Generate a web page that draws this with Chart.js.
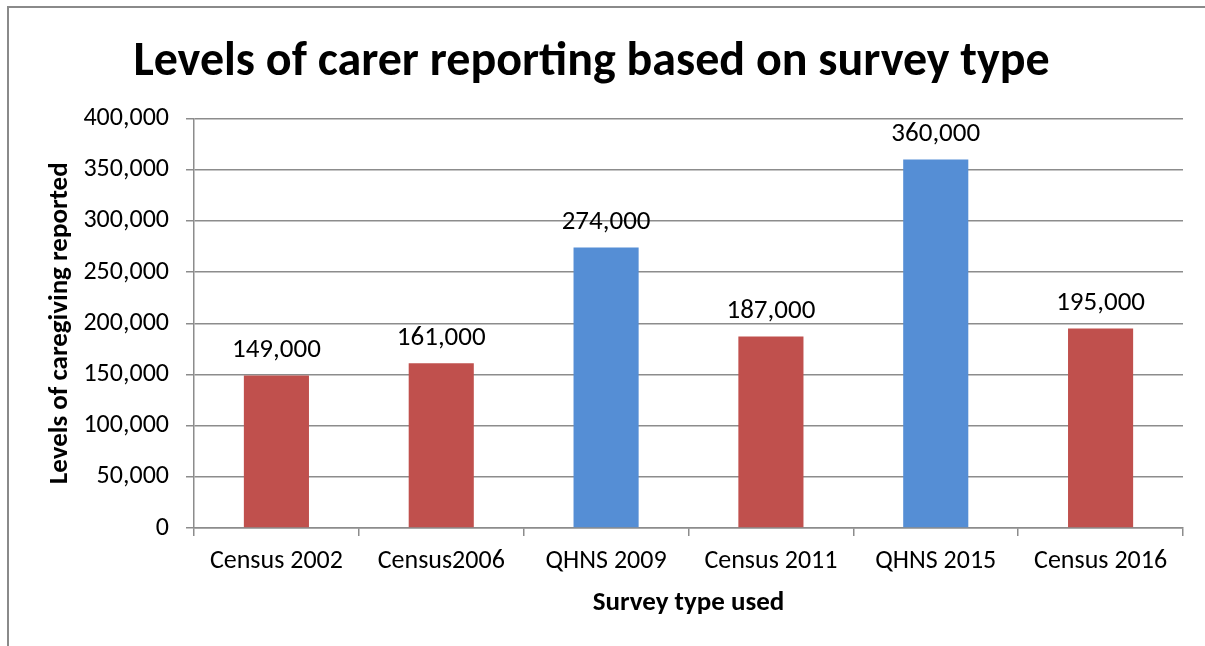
<!DOCTYPE html>
<html>
<head>
<meta charset="utf-8">
<script src="https://cdn.jsdelivr.net/npm/chart.js@4.4.1/dist/chart.umd.min.js"></script>
<style>
  body { margin: 0; background: #fff; }
  #wrap { width: 1205px; height: 646px; position: relative; }
</style>
</head>
<body>
<div id="wrap"><canvas id="carerChart" width="1205" height="646"></canvas></div>
<script>
// Chart data
const surveys = ['Census 2002', 'Census2006', 'QHNS 2009', 'Census 2011', 'QHNS 2015', 'Census 2016'];
const carerCounts = [149000, 161000, 274000, 187000, 360000, 195000];
const surveyKind = ['census', 'census', 'qhns', 'census', 'qhns', 'census'];
const yTicks = [0, 50000, 100000, 150000, 200000, 250000, 300000, 350000, 400000];

const FONT = 'Carlito, Lato, "Open Sans", sans-serif';
const GRID = '#8c8c8c';
const kindColors = { census: '#C0504D', qhns: '#558ED5' };

// Outer frame (left and top lines of the chart box)
const framePlugin = {
  id: 'frame',
  beforeDraw(chart) {
    const ctx = chart.ctx;
    ctx.save();
    ctx.strokeStyle = '#8a8a8a';
    ctx.lineWidth = 2;
    ctx.beginPath();
    ctx.moveTo(8, 646);
    ctx.lineTo(8, 7);
    ctx.lineTo(1205, 7);
    ctx.stroke();
    ctx.restore();
  },
};

// Value labels above each bar
const valueLabels = {
  id: 'valueLabels',
  afterDatasetsDraw(chart) {
    const ctx = chart.ctx;
    const meta = chart.getDatasetMeta(0);
    ctx.save();
    ctx.font = '27px ' + FONT;
    ctx.fillStyle = '#000';
    ctx.textAlign = 'center';
    ctx.textBaseline = 'middle';
    meta.data.forEach((bar, i) => {
      ctx.fillText(carerCounts[i].toLocaleString('en-US'), bar.x, bar.y - 25);
    });
    ctx.restore();
  },
};

const ctx = document.getElementById('carerChart').getContext('2d');
new Chart(ctx, {
  type: 'bar',
  data: {
    labels: surveys,
    datasets: [
      {
        data: carerCounts,
        backgroundColor: surveyKind.map((k) => kindColors[k]),
        barPercentage: 0.395,
        categoryPercentage: 1,
      },
    ],
  },
  options: {
    responsive: false,
    devicePixelRatio: 1,
    animation: false,
    layout: { padding: { left: 0, right: 22, top: 0, bottom: 0 } },
    plugins: {
      legend: { display: false },
      tooltip: { enabled: false },
      title: {
        display: true,
        text: 'Levels of carer reporting based on survey type',
        color: '#000',
        font: { family: FONT, size: 48, weight: 'bold', lineHeight: 1.2 },
        padding: { top: 34, bottom: 27 },
      },
    },
    scales: {
      x: {
        grid: {
          offset: true,
          drawOnChartArea: false,
          drawTicks: true,
          tickLength: 8,
          color: GRID,
          lineWidth: 1.5,
        },
        border: { color: GRID, width: 1.5 },
        ticks: { color: '#000', font: { family: FONT, size: 26 }, padding: 10, maxRotation: 0 },
        title: {
          display: true,
          text: 'Survey type used',
          color: '#000',
          font: { family: FONT, size: 27, weight: 'bold', lineHeight: 1.2 },
          padding: { top: 0, bottom: 27 },
        },
        afterFit(scale) {
          scale.height = 118;
        },
      },
      y: {
        min: 0,
        max: 400000,
        afterBuildTicks(scale) {
          scale.ticks = yTicks.map((v) => ({ value: v }));
        },
        grid: { color: GRID, lineWidth: 1.5, tickLength: 8 },
        border: { color: GRID, width: 1.5 },
        ticks: {
          color: '#000',
          font: { family: FONT, size: 26 },
          padding: 17,
          callback: (v) => v.toLocaleString('en-US'),
        },
        title: {
          display: true,
          text: 'Levels of caregiving reported',
          color: '#000',
          font: { family: FONT, size: 27, weight: 'bold', lineHeight: 1.2 },
          padding: { top: 44, bottom: 0 },
        },
        afterFit(scale) {
          scale.width = 194;
        },
      },
    },
  },
  plugins: [framePlugin, valueLabels],
});
</script>
</body>
</html>
